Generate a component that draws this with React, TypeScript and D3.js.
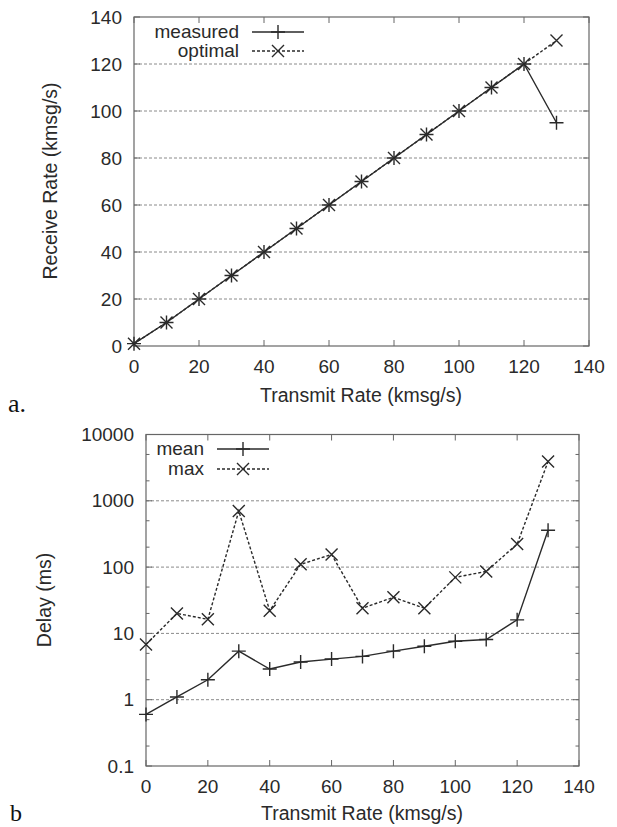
import * as d3 from "d3";

// transmit rates (kmsg/s), shared by both panels
const rates = [0, 10, 20, 30, 40, 50, 60, 70, 80, 90, 100, 110, 120, 130];

// panel a: receive rate (kmsg/s)
const measured = [1, 10, 20, 30, 40, 50, 60, 70, 80, 90, 100, 110, 120, 95];
const optimal = [1, 10, 20, 30, 40, 50, 60, 70, 80, 90, 100, 110, 120, 130];

// panel b: delay (ms)
const meanDelay = [0.6, 1.1, 2, 5.4, 2.9, 3.7, 4.1, 4.5, 5.4, 6.4, 7.6, 8.1, 16, 360];
const maxDelay = [6.8, 20, 16.3, 700, 22, 110, 155, 24, 35, 24, 70, 86, 223, 3900];

const xTicks = [0, 20, 40, 60, 80, 100, 120, 140];
const yTicksA = [0, 20, 40, 60, 80, 100, 120, 140];
const yTicksB = [0.1, 1, 10, 100, 1000, 10000];
const yMinorB = [0.2, 0.5, 2, 5, 20, 50, 200, 500, 2000, 5000];

const W = 617;
const H = 827;
const SANS = "Liberation Sans, Arial, Helvetica, sans-serif";
const SERIF = "Liberation Serif, Times New Roman, serif";
const INK = "#2a2a2a";
const AXIS = "#666";
const GRID = "#8a8a8a";
const TICK = 6;

const plus = "M-7,0H7M0,-7V7";
const cross = "M-6,-6L6,6M-6,6L6,-6";

type Pt = { x: number; y: number };

function Series({ pts, x, y, dashed, marker }: { pts: Pt[]; x: any; y: any; dashed?: boolean; marker: string }) {
  const line = d3.line<Pt>().x((d) => x(d.x)).y((d) => y(d.y));
  return (
    <g>
      <path d={line(pts) || ""} fill="none" stroke={INK} strokeWidth={1.4} strokeDasharray={dashed ? "3,2" : undefined} />
      {pts.map((d, i) => (
        <path key={i} d={marker} transform={`translate(${x(d.x)},${y(d.y)})`} stroke={INK} strokeWidth={1.4} fill="none" />
      ))}
    </g>
  );
}

function LegendRow({ label, xRight, y, dashed, marker }: { label: string; xRight: number; y: number; dashed?: boolean; marker: string }) {
  return (
    <g>
      <text x={xRight} y={y + 6} textAnchor="end" fontSize={19} fill={INK}>{label}</text>
      <line x1={xRight + 13} x2={xRight + 65} y1={y} y2={y} stroke={INK} strokeWidth={1.4} strokeDasharray={dashed ? "3,2" : undefined} />
      <path d={marker} transform={`translate(${xRight + 39},${y})`} stroke={INK} strokeWidth={1.4} fill="none" />
    </g>
  );
}

function Frame({ x, y, gridVals, majorY, minorY }: { x: any; y: any; gridVals: number[]; majorY: number[]; minorY?: number[] }) {
  const [x0, x1] = x.range();
  const [yb, yt] = y.range();
  return (
    <g>
      {gridVals.map((v) => (
        <line key={`g${v}`} x1={x0} x2={x1} y1={y(v)} y2={y(v)} stroke={GRID} strokeWidth={1} strokeDasharray="3,2" />
      ))}
      {xTicks.map((v) => (
        <g key={`x${v}`}>
          <line x1={x(v)} x2={x(v)} y1={yb} y2={yb - TICK} stroke={AXIS} />
          <line x1={x(v)} x2={x(v)} y1={yt} y2={yt + TICK} stroke={AXIS} />
          <text x={x(v)} y={yb + 27} textAnchor="middle" fontSize={19} fill={INK}>{v}</text>
        </g>
      ))}
      {majorY.map((v) => (
        <g key={`y${v}`}>
          <line x1={x0} x2={x0 + TICK} y1={y(v)} y2={y(v)} stroke={AXIS} />
          <line x1={x1} x2={x1 - TICK} y1={y(v)} y2={y(v)} stroke={AXIS} />
          <text x={x0 - 12} y={y(v) + 6.5} textAnchor="end" fontSize={19} fill={INK}>{v}</text>
        </g>
      ))}
      {(minorY || []).map((v) => (
        <g key={`m${v}`}>
          <line x1={x0} x2={x0 + 3.5} y1={y(v)} y2={y(v)} stroke={AXIS} />
          <line x1={x1} x2={x1 - 3.5} y1={y(v)} y2={y(v)} stroke={AXIS} />
        </g>
      ))}
      <rect x={x0} y={yt} width={x1 - x0} height={yb - yt} fill="none" stroke={AXIS} strokeWidth={1.2} />
    </g>
  );
}

export default function App() {
  // panel a scales
  const xA = d3.scaleLinear().domain([0, 140]).range([134, 589]);
  const yA = d3.scaleLinear().domain([0, 140]).range([346, 17]);
  // panel b scales
  const xB = d3.scaleLinear().domain([0, 140]).range([146, 579]);
  const yB = d3.scaleLog().domain([0.1, 10000]).range([766, 434.5]);

  const measPts = rates.map((r, i) => ({ x: r, y: measured[i] }));
  const optPts = rates.map((r, i) => ({ x: r, y: optimal[i] }));
  const meanPts = rates.map((r, i) => ({ x: r, y: meanDelay[i] }));
  const maxPts = rates.map((r, i) => ({ x: r, y: maxDelay[i] }));

  return (
    <svg width={W} height={H} style={{ position: "absolute", left: 0, top: 0, background: "#fff", fontFamily: SANS }}>
      <rect width={W} height={H} fill="#fff" />

      {/* panel a */}
      <Frame x={xA} y={yA} gridVals={[20, 40, 60, 80, 100, 120]} majorY={yTicksA} />
      <Series pts={optPts} x={xA} y={yA} dashed marker={cross} />
      <Series pts={measPts} x={xA} y={yA} marker={plus} />
      <LegendRow label="measured" xRight={239} y={32} marker={plus} />
      <LegendRow label="optimal" xRight={239} y={51} dashed marker={cross} />
      <text x={361} y={402} textAnchor="middle" fontSize={19.5} fill={INK}>Transmit Rate (kmsg/s)</text>
      <text transform="translate(57,181) rotate(-90)" textAnchor="middle" fontSize={19.5} fill={INK}>Receive Rate (kmsg/s)</text>
      <text x={8} y={412} style={{ fontFamily: SERIF }} fontSize={26} fill="#111">a.</text>

      {/* panel b */}
      <Frame x={xB} y={yB} gridVals={[1, 10, 100, 1000]} majorY={yTicksB} minorY={yMinorB} />
      <Series pts={maxPts} x={xB} y={yB} dashed marker={cross} />
      <Series pts={meanPts} x={xB} y={yB} marker={plus} />
      <LegendRow label="mean" xRight={204} y={449} marker={plus} />
      <LegendRow label="max" xRight={204} y={469} dashed marker={cross} />
      <text x={362} y={820} textAnchor="middle" fontSize={19.5} fill={INK}>Transmit Rate (kmsg/s)</text>
      <text transform="translate(51,600) rotate(-90)" textAnchor="middle" fontSize={19.5} fill={INK}>Delay (ms)</text>
      <text x={10} y={821} style={{ fontFamily: SERIF }} fontSize={24} fill="#111">b</text>
    </svg>
  );
}
